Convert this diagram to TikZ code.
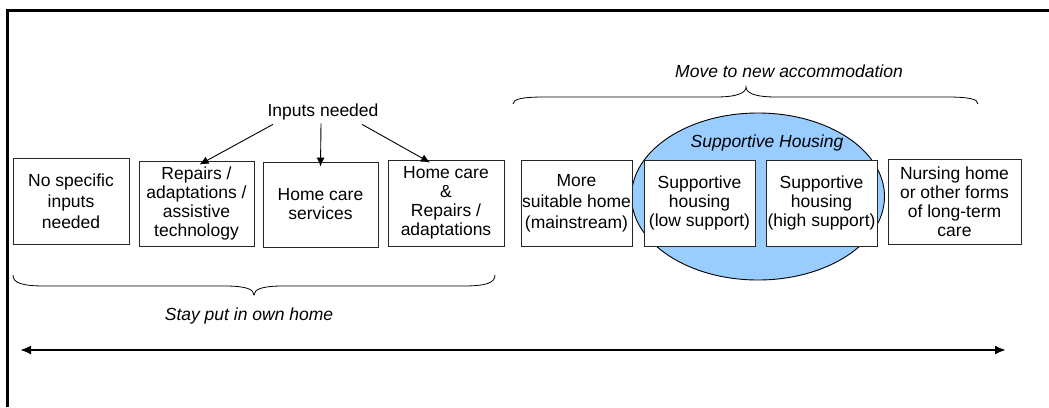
\documentclass[tikz,border=0pt]{standalone}
\usepackage{fontspec}
\setmainfont{Liberation Sans}
\usetikzlibrary{arrows.meta,shapes.geometric}
\definecolor{shblue}{HTML}{99CCFF}
\tikzset{
  stagebox/.style={draw=black!85, line width=0.9pt, fill=white, rectangle, inner sep=0pt, align=center,
    font=\fontsize{17.5}{19}\selectfont},
  lbl/.style={inner sep=0pt, font=\fontsize{17.5}{21}\selectfont},
  ilbl/.style={inner sep=0pt, font=\fontsize{17.5}{21}\selectfont\itshape},
  feed/.style={-{Latex[length=9pt,width=8pt]}, line width=0.9pt},
  bracep/.style={line width=0.8pt},
}
\begin{document}
\begin{tikzpicture}[x=1pt,y=-1pt]
\useasboundingbox (0,0) rectangle (1049,407);
% frame
\draw[line width=3pt] (7,407) -- (7,10) -- (1052,10);
% ellipse
\node[ellipse, draw=black, line width=0.9pt, fill=shblue, minimum width=253pt, minimum height=167pt, inner sep=0pt] (ell) at (758,196.5) {};
\node[ilbl] (sh) at (767,143) {Supportive Housing};
% boxes
\node[stagebox, minimum width=116pt, minimum height=86pt, font=\fontsize{17.5}{21}\selectfont] (b1) at (71,201) {No specific\\inputs\\needed};
\node[stagebox, minimum width=115pt, minimum height=85pt] (b2) at (196.5,203.5) {Repairs /\\adaptations /\\assistive\\technology};
\node[stagebox, minimum width=115pt, minimum height=85pt] (b3) at (320.5,204.5) {Home care\\services};
\node[stagebox, minimum width=116pt, minimum height=86pt] (b4) at (446,203) {Home care\\\&\\Repairs /\\adaptations};
\node[stagebox, minimum width=111pt, minimum height=86pt, font=\fontsize{17.5}{21}\selectfont] (b5) at (576.5,203) {More\\suitable home\\(mainstream)};
\node[stagebox, minimum width=111pt, minimum height=86pt] (b6) at (699.5,203) {Supportive\\housing\\(low support)};
\node[stagebox, minimum width=111pt, minimum height=86pt] (b7) at (821.5,203) {Supportive\\housing\\(high support)};
\node[stagebox, minimum width=133pt, minimum height=85pt] (b8) at (954.5,201.5) {Nursing home\\or other forms\\of long-term\\care};
% inputs needed
\node[lbl] (inp) at (323,112) {Inputs needed};
\draw[feed] ([xshift=-50pt,yshift=-4pt]inp.south) -- ([xshift=3pt,yshift=-4pt]b2.north);
\draw[feed] ([xshift=-2pt,yshift=-3pt]inp.south) -- ([yshift=-5pt]b3.north);
\draw[feed] ([xshift=39pt,yshift=-4pt]inp.south) -- ([xshift=-16pt,yshift=-3pt]b4.north);
% bottom brace
\coordinate (bt) at (254,295);
\draw[bracep] (13,275) .. controls (13,283) and (22,286) .. (45,286) -- (225,286)
  .. controls (245,286) and (254,289) .. (bt)
  .. controls (254,289) and (263,286) .. (283,286) -- (463,286)
  .. controls (486,286) and (495,283) .. (495,275);
\node[ilbl] (stay) at (249,316) {Stay put in own home};
% top brace
\coordinate (tt) at (746,87);
\draw[bracep] (513,104) .. controls (513,99) and (522,97) .. (545,97) -- (716,97)
  .. controls (737,97) and (746,93) .. (tt)
  .. controls (746,93) and (755,97) .. (776,97) -- (946,97)
  .. controls (969,97) and (978,99) .. (978,104);
\node[ilbl] (move) at (789,71) {Move to new accommodation};
% double arrow
\coordinate (L) at (20,350);
\coordinate (R) at (1006,350);
\draw[line width=2pt, {Latex[length=11pt,width=9pt]}-{Latex[length=11pt,width=9pt]}] (L) -- (R);
\end{tikzpicture}
\end{document}
